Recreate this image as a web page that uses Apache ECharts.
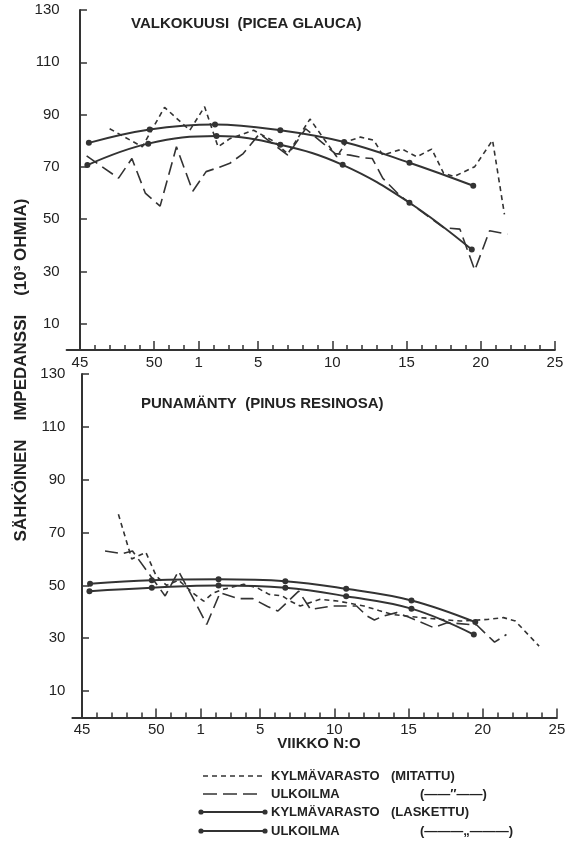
<!DOCTYPE html>
<html>
<head>
<meta charset="utf-8">
<script src="https://cdn.jsdelivr.net/npm/echarts@6/dist/echarts.min.js"></script>
<style>
html,body{margin:0;padding:0;background:#fff;}
#c{width:572px;height:847px;}
</style>
</head>
<body>
<div id="c"></div>
<script>
// ---- axis ticks / labels ----
// x positions are sequential week indices: 0 = week 45, 7 = week 52, 8 = week 1, 32 = week 25
var weekTickIdx = [];
for (var i = 0; i <= 32; i++) weekTickIdx.push(i);
var weekLabelIdx = [0, 5, 8, 12, 17, 22, 27, 32];
var weekLabels = ['45', '50', '1', '5', '10', '15', '20', '25'];
var yTicks = [10, 30, 50, 70, 90, 110, 130];

// ---- top panel: VALKOKUUSI ----
var topColdMeasuredX = [2.0, 4.2, 5.7, 7.4, 8.4, 9.3, 10.1, 11.7, 13.0, 14.0, 15.5, 16.4, 17.3, 18.0, 18.9, 19.8, 20.4, 21.7, 22.7, 23.7, 24.5, 25.2, 26.6, 27.8, 28.6];
var topColdMeasuredY = [84.6, 77.7, 92.8, 84.0, 93.0, 77.7, 80.8, 84.0, 80.0, 75.0, 88.3, 81.0, 73.9, 79.8, 81.4, 80.2, 74.5, 76.8, 73.9, 76.8, 67.6, 66.3, 70.1, 80.2, 51.9];
var topOutdoorMeasuredX = [0.45, 2.6, 3.5, 4.4, 5.4, 6.5, 7.6, 8.5, 9.4, 10.1, 11.0, 12.1, 14.0, 15.2, 16.4, 17.2, 18.2, 19.1, 19.7, 20.4, 21.6, 23.0, 24.5, 25.6, 26.6, 27.6, 28.8];
var topOutdoorMeasuredY = [74.2, 65.7, 73.2, 60.0, 55.0, 77.7, 60.7, 68.2, 69.9, 71.4, 75.1, 82.7, 74.5, 84.6, 78.9, 75.1, 74.5, 73.5, 73.2, 65.7, 58.8, 53.0, 46.8, 46.2, 30.5, 45.6, 44.3];
var topColdFitX = [0.6, 4.7, 9.1, 13.5, 17.8, 22.2, 26.5];
var topColdFitY = [79.2, 84.3, 86.2, 84.0, 79.5, 71.6, 62.8];
var topOutdoorFitX = [0.5, 4.6, 9.2, 13.5, 17.7, 22.2, 26.4];
var topOutdoorFitY = [70.7, 78.9, 81.8, 78.5, 70.8, 56.3, 38.4];

// ---- bottom panel: PUNAMÄNTY ----
var botColdMeasuredX = [2.45, 3.35, 4.3, 5.0, 5.7, 6.5, 7.5, 8.2, 8.8, 9.5, 10.9, 11.8, 12.6, 13.5, 14.0, 14.7, 16.0, 17.2, 19.0, 20.0, 20.9, 22.8, 25.5, 27.3, 28.4, 29.2, 30.8];
var botColdMeasuredY = [76.9, 60.0, 62.5, 53.5, 50.0, 52.0, 47.0, 44.0, 47.0, 48.5, 50.4, 49.1, 46.6, 46.0, 44.1, 42.2, 44.7, 44.1, 42.2, 40.5, 39.0, 37.8, 36.5, 37.1, 37.8, 36.5, 27.0];
var botOutdoorMeasuredX = [1.55, 2.7, 3.4, 4.3, 5.6, 6.5, 7.5, 8.4, 9.3, 10.5, 11.5, 12.5, 13.2, 14.6, 15.4, 16.9, 18.5, 19.2, 19.7, 20.3, 21.2, 22.0, 23.7, 24.6, 26.6, 27.8, 28.6];
var botOutdoorMeasuredY = [63.0, 62.0, 63.0, 56.0, 46.0, 55.4, 45.0, 35.2, 47.2, 45.0, 45.0, 42.0, 40.3, 47.8, 40.9, 42.2, 42.2, 38.4, 36.9, 38.4, 39.7, 38.0, 34.0, 35.9, 35.0, 28.5, 31.4];
var botColdFitX = [0.54, 4.7, 9.2, 13.7, 17.8, 22.2, 26.5];
var botColdFitY = [50.6, 51.9, 52.3, 51.6, 48.7, 44.3, 36.1];
var botOutdoorFitX = [0.5, 4.7, 9.2, 13.7, 17.8, 22.2, 26.4];
var botOutdoorFitY = [47.8, 49.1, 50.0, 49.1, 45.9, 41.2, 31.4];

var INK = '#333';
var TXT = '#222';
var FONT = '"Liberation Sans", Arial, sans-serif';
var SHORT_DASH = [5, 4];
var LONG_DASH = [13, 6];

function pairs(xs, ys) { return xs.map(function (x, i) { return [x, ys[i]]; }); }
function labelFor(v) { var k = weekLabelIdx.indexOf(Math.round(v)); return k >= 0 ? weekLabels[k] : ''; }

function xAxesFor(grid, min) {
  return [{
    gridIndex: grid, type: 'value', min: min, max: 32, position: 'bottom',
    axisLine: { show: true, onZero: false, lineStyle: { color: INK, width: 2 } },
    axisTick: { show: true, inside: true, length: 5, customValues: weekTickIdx, lineStyle: { color: INK, width: 1.5 } },
    axisLabel: { show: false }, splitLine: { show: false }
  }, {
    gridIndex: grid, type: 'value', min: min, max: 32, position: 'bottom', offset: 0,
    axisLine: { show: false, onZero: false },
    axisTick: { show: true, inside: true, length: 9, customValues: weekLabelIdx, lineStyle: { color: INK, width: 1.5 } },
    axisLabel: { show: true, customValues: weekLabelIdx, formatter: labelFor, color: TXT, fontSize: 15, fontFamily: FONT, margin: 5 },
    splitLine: { show: false }
  }];
}
function yAxisFor(grid) {
  return {
    gridIndex: grid, type: 'value', min: 0, max: 130,
    axisLine: { show: true, lineStyle: { color: INK, width: 2 } },
    axisTick: { show: true, inside: true, length: 7, customValues: yTicks, lineStyle: { color: INK, width: 1.5 } },
    axisLabel: { show: true, customValues: yTicks, color: TXT, fontSize: 15, fontFamily: FONT, margin: 7 },
    splitLine: { show: false }
  };
}
function dashed(xi, yi, xs, ys, dash) {
  return { type: 'line', xAxisIndex: xi, yAxisIndex: yi, data: pairs(xs, ys), showSymbol: false, symbol: 'none',
    lineStyle: { color: INK, width: 1.6, type: dash }, z: 3, silent: true };
}
function fitted(xi, yi, xs, ys) {
  return { type: 'line', xAxisIndex: xi, yAxisIndex: yi, data: pairs(xs, ys), smooth: 0.4,
    symbol: 'circle', symbolSize: 6, itemStyle: { color: INK }, lineStyle: { color: INK, width: 2 }, z: 4, silent: true };
}

var chart = echarts.init(document.getElementById('c'), null, { renderer: 'canvas' });

var LF = 'bold 13px ' + FONT;
function legendRow(y, kind, label, note, noteX) {
  var els = [];
  if (kind === 'short' || kind === 'long') {
    els.push({ type: 'line', shape: { x1: 203, y1: y, x2: 262, y2: y }, style: { stroke: INK, lineWidth: 1.6, lineDash: kind === 'short' ? [5, 4] : [14, 6] } });
  } else {
    els.push({ type: 'line', shape: { x1: 201, y1: y, x2: 265, y2: y }, style: { stroke: INK, lineWidth: 1.8 } });
    els.push({ type: 'circle', shape: { cx: 201, cy: y, r: 2.6 }, style: { fill: INK } });
    els.push({ type: 'circle', shape: { cx: 265, cy: y, r: 2.6 }, style: { fill: INK } });
  }
  els.push({ type: 'text', x: 271, y: y, style: { text: label, font: LF, fill: TXT, textAlign: 'left', textVerticalAlign: 'middle' } });
  els.push({ type: 'text', x: noteX, y: y, style: { text: note, font: LF, fill: TXT, textAlign: 'left', textVerticalAlign: 'middle' } });
  return els;
}

var graphics = [
  { type: 'text', x: 131, y: 24, style: { text: 'VALKOKUUSI  (PICEA GLAUCA)', font: 'bold 15px ' + FONT, fill: TXT, textAlign: 'left', textVerticalAlign: 'middle' } },
  { type: 'text', x: 141, y: 404, style: { text: 'PUNAMÄNTY  (PINUS RESINOSA)', font: 'bold 15px ' + FONT, fill: TXT, textAlign: 'left', textVerticalAlign: 'middle' } },
  { type: 'text', x: 21, y: 370, rotation: Math.PI / 2, style: { text: 'SÄHKÖINEN    IMPEDANSSI    (10³ OHMIA)', font: 'bold 17px ' + FONT, fill: TXT, textAlign: 'center', textVerticalAlign: 'middle' } },
  { type: 'text', x: 319, y: 744, style: { text: 'VIIKKO N:O', font: 'bold 15px ' + FONT, fill: TXT, textAlign: 'center', textVerticalAlign: 'middle' } }
];
graphics = graphics
  .concat(legendRow(776, 'short', 'KYLMÄVARASTO', '(MITATTU)', 391))
  .concat(legendRow(794, 'long', 'ULKOILMA', '(——″——)', 420))
  .concat(legendRow(812, 'solid', 'KYLMÄVARASTO', '(LASKETTU)', 391))
  .concat(legendRow(831, 'solid', 'ULKOILMA', '(———„———)', 420));

chart.setOption({
  backgroundColor: '#fff',
  animation: false,
  grid: [
    { left: 66.6, right: 17.1, top: 10, height: 340 },
    { left: 72.4, right: 15.1, top: 374, height: 343.5 }
  ],
  xAxis: xAxesFor(0, -0.9).concat(xAxesFor(1, -0.65)),
  yAxis: [yAxisFor(0), yAxisFor(1)],
  series: [
    dashed(0, 0, topColdMeasuredX, topColdMeasuredY, SHORT_DASH),
    dashed(0, 0, topOutdoorMeasuredX, topOutdoorMeasuredY, LONG_DASH),
    fitted(0, 0, topColdFitX, topColdFitY),
    fitted(0, 0, topOutdoorFitX, topOutdoorFitY),
    dashed(2, 1, botColdMeasuredX, botColdMeasuredY, SHORT_DASH),
    dashed(2, 1, botOutdoorMeasuredX, botOutdoorMeasuredY, LONG_DASH),
    fitted(2, 1, botColdFitX, botColdFitY),
    fitted(2, 1, botOutdoorFitX, botOutdoorFitY)
  ],
  graphic: graphics
});
</script>
</body>
</html>
